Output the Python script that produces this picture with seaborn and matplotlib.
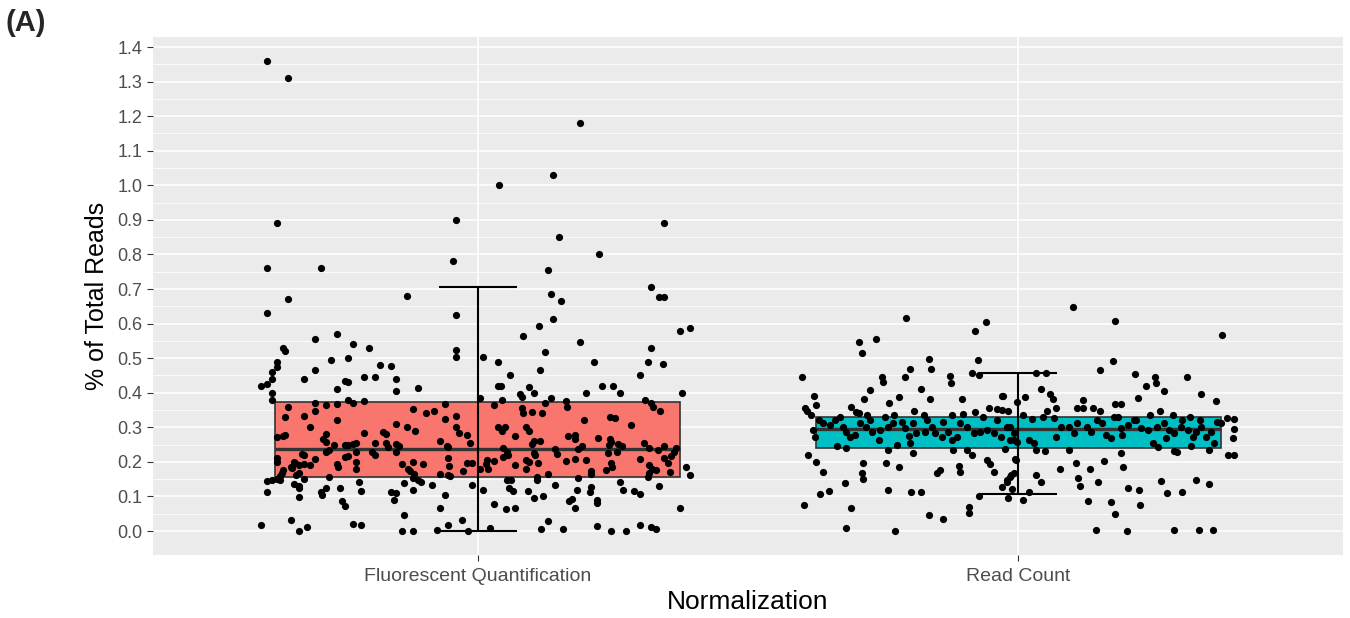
import numpy as np
import pandas as pd
import seaborn as sns
import matplotlib.pyplot as plt

# Categories and summary values
groups = ["Fluorescent Quantification", "Read Count"]
box_colors = ["#F8766D", "#00BFC4"]
q1 = [0.156, 0.239]
median = [0.237, 0.294]
q3 = [0.374, 0.329]
err_lo = [0.0, 0.107]
err_hi = [0.706, 0.458]

# Individual samples: (horizontal jitter, % of total reads)
fq_points = [
    (-0.39, 1.36), (-0.35, 1.31), (-0.37, 0.89), (-0.04, 0.90), (-0.39, 0.76), (-0.29, 0.76), (-0.045, 0.78),
    (0.19, 1.18), (0.14, 1.03), (0.04, 1.00), (0.345, 0.89), (0.15, 0.85), (0.225, 0.80), (0.13, 0.755), (0.32, 0.705),
    (-0.35, 0.67), (-0.13, 0.68), (-0.39, 0.63), (-0.04, 0.625), (-0.30, 0.555), (-0.26, 0.57), (-0.23, 0.54),
    (-0.20, 0.53), (-0.36, 0.53), (-0.355, 0.52), (-0.37, 0.49), (-0.37, 0.475), (-0.27, 0.495), (-0.24, 0.50),
    (-0.30, 0.465), (-0.18, 0.48), (-0.16, 0.477), (-0.38, 0.46), (-0.38, 0.44), (-0.32, 0.44), (-0.21, 0.445),
    (-0.19, 0.445), (-0.15, 0.44), (-0.40, 0.42), (-0.39, 0.425), (-0.245, 0.434), (-0.24, 0.43), (-0.26, 0.41),
    (-0.38, 0.40), (-0.15, 0.405), (-0.11, 0.415), (-0.38, 0.38), (-0.24, 0.38), (-0.23, 0.37), (-0.21, 0.375),
    (-0.30, 0.37), (-0.28, 0.365), (-0.26, 0.368), (-0.35, 0.36), (-0.30, 0.347), (-0.355, 0.33), (-0.32, 0.333),
    (-0.26, 0.32), (-0.12, 0.353), (-0.095, 0.34), (-0.08, 0.347), (-0.06, 0.367), (-0.06, 0.324), (-0.31, 0.30),
    (-0.15, 0.31), (-0.13, 0.30), (-0.115, 0.29), (-0.21, 0.283), (-0.175, 0.286), (-0.17, 0.28), (-0.37, 0.272),
    (-0.36, 0.275), (-0.355, 0.278), (-0.28, 0.28), (-0.285, 0.266), (-0.28, 0.257), (-0.07, 0.26), (-0.265, 0.25),
    (-0.245, 0.25), (-0.24, 0.25), (-0.23, 0.252), (-0.225, 0.255), (-0.19, 0.255), (-0.17, 0.255), (-0.165, 0.243),
    (-0.15, 0.252), (-0.145, 0.246), (-0.195, 0.228), (-0.19, 0.22), (-0.28, 0.23), (-0.275, 0.234), (-0.245, 0.214),
    (-0.24, 0.217), (-0.225, 0.228), (-0.225, 0.20), (-0.37, 0.21), (-0.37, 0.20), (-0.325, 0.222), (-0.32, 0.22),
    (-0.30, 0.208), (-0.15, 0.228), (-0.34, 0.20), (-0.338, 0.198), (-0.33, 0.19), (-0.32, 0.194), (-0.31, 0.19),
    (-0.26, 0.194), (-0.258, 0.185), (-0.345, 0.185), (-0.343, 0.182), (-0.225, 0.18), (-0.14, 0.194), (-0.128, 0.18),
    (-0.12, 0.20), (-0.10, 0.194), (-0.055, 0.21), (-0.053, 0.188), (-0.055, 0.162), (-0.36, 0.176), (-0.362, 0.168),
    (-0.365, 0.16), (-0.335, 0.162), (-0.33, 0.168), (-0.275, 0.156), (-0.125, 0.174), (-0.117, 0.165), (-0.12, 0.153),
    (-0.11, 0.148), (-0.105, 0.142), (-0.07, 0.165), (-0.05, 0.16), (-0.39, 0.145), (-0.38, 0.148), (-0.37, 0.15),
    (-0.365, 0.148), (-0.32, 0.15), (-0.34, 0.136), (-0.33, 0.13), (-0.22, 0.142), (-0.135, 0.139), (-0.12, 0.12),
    (-0.085, 0.133), (-0.39, 0.113), (-0.33, 0.125), (-0.29, 0.113), (-0.288, 0.104), (-0.28, 0.125), (-0.255, 0.125),
    (-0.215, 0.116), (-0.16, 0.113), (-0.15, 0.11), (-0.33, 0.098), (-0.25, 0.087), (-0.245, 0.072), (-0.155, 0.09),
    (-0.06, 0.104), (-0.07, 0.067), (-0.135, 0.046), (-0.345, 0.032), (-0.40, 0.017), (-0.33, 0.0), (-0.315, 0.012),
    (-0.23, 0.02), (-0.215, 0.017), (-0.14, 0.0), (-0.12, 0.0), (-0.075, 0.003), (-0.055, 0.017),
    (-0.04, 0.523), (-0.04, 0.503),
    (0.335, 0.677), (0.345, 0.677), (0.135, 0.686), (0.155, 0.665), (0.14, 0.613), (0.113, 0.593), (0.085, 0.564),
    (0.19, 0.547), (0.375, 0.58), (0.393, 0.587), (0.124, 0.518), (0.01, 0.503), (0.037, 0.49), (0.215, 0.49),
    (0.32, 0.53), (0.315, 0.49), (0.343, 0.483), (0.115, 0.466), (0.06, 0.45), (0.30, 0.45), (0.037, 0.42),
    (0.043, 0.42), (0.096, 0.417), (0.105, 0.40), (0.23, 0.42), (0.25, 0.42), (0.263, 0.40), (0.20, 0.40),
    (0.078, 0.396), (0.083, 0.388), (0.378, 0.40), (0.004, 0.385), (0.046, 0.38), (0.135, 0.385), (0.124, 0.37),
    (0.163, 0.376), (0.165, 0.36), (0.31, 0.38), (0.32, 0.37), (0.325, 0.36), (0.338, 0.347), (0.031, 0.364),
    (0.082, 0.356), (0.085, 0.341), (0.10, 0.344), (0.12, 0.341), (0.245, 0.33), (0.254, 0.327), (0.197, 0.32),
    (0.284, 0.307), (-0.04, 0.333), (0.037, 0.30), (0.05, 0.30), (0.046, 0.29), (-0.04, 0.30), (-0.035, 0.283),
    (0.09, 0.30), (0.096, 0.29), (0.07, 0.275), (-0.02, 0.278), (-0.013, 0.255), (0.168, 0.275), (0.18, 0.278),
    (0.18, 0.266), (0.222, 0.27), (0.245, 0.266), (0.247, 0.257), (0.243, 0.249), (0.10, 0.252), (0.104, 0.26),
    (0.115, 0.26), (-0.057, 0.246), (-0.054, 0.243), (0.048, 0.24), (0.054, 0.228), (0.056, 0.22), (0.048, 0.214),
    (0.143, 0.237), (0.147, 0.223), (0.193, 0.246), (0.186, 0.237), (0.26, 0.252), (0.267, 0.246), (0.258, 0.228),
    (0.241, 0.226), (0.308, 0.255), (0.317, 0.24), (0.334, 0.234), (0.345, 0.246), (0.367, 0.24), (0.364, 0.228),
    (0.358, 0.217), (0.345, 0.21), (0.353, 0.197), (0.104, 0.226), (0.09, 0.205), (0.096, 0.20), (0.111, 0.197),
    (0.106, 0.22), (0.018, 0.205), (0.015, 0.194), (0.031, 0.202), (0.07, 0.19), (0.09, 0.18), (0.163, 0.202),
    (0.18, 0.208), (0.20, 0.205), (-0.02, 0.197), (-0.01, 0.197), (0.004, 0.18), (-0.026, 0.174), (0.02, 0.18),
    (0.13, 0.165), (0.21, 0.174), (0.21, 0.165), (0.237, 0.176), (0.249, 0.185), (0.247, 0.197), (0.30, 0.208),
    (0.317, 0.19), (0.323, 0.18), (0.33, 0.176), (0.317, 0.168), (0.315, 0.156), (0.356, 0.17), (0.386, 0.185),
    (0.393, 0.162), (0.054, 0.148), (0.061, 0.148), (0.059, 0.125), (0.065, 0.116), (0.11, 0.156), (0.11, 0.148),
    (0.143, 0.133), (-0.01, 0.133), (0.011, 0.12), (0.093, 0.116), (0.104, 0.095), (0.122, 0.10), (0.185, 0.153),
    (0.184, 0.12), (0.21, 0.127), (0.208, 0.113), (0.263, 0.142), (0.269, 0.12), (0.29, 0.116), (0.30, 0.107),
    (0.336, 0.13), (0.03, 0.078), (0.052, 0.064), (0.07, 0.067), (0.17, 0.087), (0.174, 0.093), (0.18, 0.067),
    (0.22, 0.09), (0.22, 0.081), (0.375, 0.067), (-0.028, 0.032), (0.13, 0.029), (0.117, 0.006), (0.158, 0.006),
    (0.22, 0.014), (0.247, 0.0), (0.275, 0.0), (0.30, 0.017), (0.32, 0.012), (0.33, 0.006), (-0.017, 0.0),
    (0.024, 0.009),
]

rc_points = [
    (-0.208, 0.616), (-0.06, 0.605), (-0.08, 0.58), (-0.295, 0.547), (-0.263, 0.555), (-0.29, 0.515), (-0.165, 0.498),
    (-0.074, 0.495), (-0.20, 0.469), (-0.161, 0.469), (-0.085, 0.457), (-0.072, 0.451), (-0.40, 0.445), (-0.21, 0.445),
    (-0.252, 0.445), (-0.25, 0.431), (-0.126, 0.448), (-0.124, 0.428), (-0.275, 0.408), (-0.18, 0.41), (-0.378, 0.39),
    (-0.22, 0.387), (-0.286, 0.382), (-0.163, 0.382), (-0.104, 0.382), (-0.03, 0.39), (-0.375, 0.364), (-0.24, 0.37),
    (-0.31, 0.359), (-0.395, 0.356), (-0.39, 0.347), (-0.384, 0.336), (-0.30, 0.344), (-0.295, 0.341), (-0.193, 0.347),
    (-0.08, 0.344), (-0.054, 0.356), (-0.039, 0.353), (-0.03, 0.35), (-0.019, 0.347), (-0.28, 0.336), (-0.23, 0.336),
    (-0.247, 0.33), (-0.174, 0.336), (-0.122, 0.336), (-0.102, 0.338), (-0.065, 0.33),
    (-0.369, 0.321), (-0.361, 0.312), (-0.349, 0.307), (-0.34, 0.321), (-0.329, 0.329), (-0.325, 0.302), (-0.318, 0.287),
    (-0.312, 0.273), (-0.302, 0.278), (-0.293, 0.312), (-0.282, 0.302), (-0.275, 0.321), (-0.27, 0.287), (-0.258, 0.263),
    (-0.256, 0.292), (-0.242, 0.302), (-0.241, 0.234), (-0.231, 0.312), (-0.224, 0.25), (-0.216, 0.316), (-0.21, 0.297),
    (-0.202, 0.275), (-0.2, 0.254), (-0.194, 0.312), (-0.189, 0.283), (-0.173, 0.287), (-0.169, 0.321), (-0.159, 0.302),
    (-0.154, 0.283), (-0.142, 0.273), (-0.139, 0.316), (-0.13, 0.287), (-0.123, 0.263), (-0.114, 0.273), (-0.108, 0.312),
    (-0.095, 0.302), (-0.083, 0.283), (-0.071, 0.287), (-0.058, 0.292), (-0.046, 0.283), (-0.04, 0.321), (-0.033, 0.273),
    (-0.015, 0.302), (-0.009, 0.263),
    (-0.38, 0.292), (-0.377, 0.273), (-0.389, 0.22), (-0.375, 0.20), (-0.361, 0.172), (-0.336, 0.247), (-0.318, 0.239),
    (-0.288, 0.198), (-0.29, 0.169), (-0.287, 0.15), (-0.321, 0.138), (-0.35, 0.116), (-0.367, 0.106), (-0.396, 0.075),
    (-0.309, 0.067), (-0.318, 0.008), (-0.242, 0.119), (-0.245, 0.196), (-0.221, 0.186), (-0.194, 0.225), (-0.199, 0.113),
    (-0.181, 0.112), (-0.15, 0.167), (-0.145, 0.176), (-0.121, 0.234), (-0.11, 0.188), (-0.108, 0.172), (-0.085, 0.22),
    (-0.095, 0.234), (-0.072, 0.101), (-0.059, 0.205), (-0.053, 0.194), (-0.046, 0.172), (-0.091, 0.07), (-0.091, 0.053),
    (-0.165, 0.047), (-0.14, 0.034), (-0.228, 0.001), (-0.03, 0.126), (-0.021, 0.143), (-0.013, 0.162), (-0.012, 0.121),
    (-0.02, 0.095), (-0.004, 0.205), (-0.002, 0.258),
    (0.1, 0.649), (0.179, 0.608), (0.376, 0.567), (0.175, 0.492), (0.15, 0.466), (0.033, 0.458), (0.051, 0.456),
    (0.216, 0.453), (0.253, 0.445), (0.254, 0.429), (0.312, 0.446), (0.236, 0.419), (0.269, 0.404), (0.042, 0.41),
    (0.338, 0.395), (-0.028, 0.39), (0.012, 0.389), (0.058, 0.395), (0.063, 0.381), (0.221, 0.386), (0.366, 0.377),
    (0.12, 0.379), (0.179, 0.368), (0.19, 0.368), (0.108, 0.355), (0.119, 0.355), (0.137, 0.355), (0.151, 0.347),
    (0.069, 0.355), (0.053, 0.347), (0.261, 0.346), (-0.002, 0.374), (0.008, 0.336), (0.025, 0.323), (0.046, 0.329),
    (0.066, 0.326), (0.177, 0.331), (0.184, 0.329), (0.218, 0.321), (0.243, 0.336), (0.285, 0.336), (0.302, 0.321),
    (0.318, 0.331), (0.336, 0.321), (0.367, 0.316), (0.385, 0.326), (0.398, 0.323),
    (-0.021, 0.302), (-0.009, 0.283), (-0.015, 0.263), (0.019, 0.263), (0.028, 0.254), (0.032, 0.234), (0.05, 0.232),
    (0.069, 0.273), (0.078, 0.302), (0.093, 0.302), (0.103, 0.283), (0.109, 0.312), (0.127, 0.302), (0.134, 0.287),
    (0.146, 0.321), (0.155, 0.312), (0.161, 0.278), (0.171, 0.268), (0.189, 0.297), (0.192, 0.278), (0.202, 0.307),
    (0.214, 0.321), (0.226, 0.297), (0.239, 0.292), (0.257, 0.302), (0.27, 0.312), (0.279, 0.292), (0.273, 0.268),
    (0.288, 0.283), (0.294, 0.229), (0.301, 0.302), (0.313, 0.292), (0.322, 0.273), (0.328, 0.287), (0.338, 0.302),
    (0.347, 0.273), (0.356, 0.287), (0.362, 0.254), (0.353, 0.234), (0.375, 0.312), (0.398, 0.295), (0.397, 0.268),
    (0.387, 0.22), (0.399, 0.22),
    (-0.024, 0.236), (-0.007, 0.207), (-0.009, 0.169), (-0.015, 0.157), (-0.021, 0.148), (0.009, 0.09), (0.019, 0.114),
    (0.033, 0.162), (0.041, 0.143), (0.077, 0.179), (0.093, 0.234), (0.106, 0.198), (0.11, 0.154), (0.113, 0.13),
    (0.133, 0.179), (0.129, 0.087), (0.148, 0.141), (0.159, 0.202), (0.171, 0.083), (0.179, 0.049), (0.143, 0.004),
    (0.2, 0.001), (0.19, 0.225), (0.193, 0.186), (0.203, 0.125), (0.223, 0.119), (0.224, 0.074), (0.249, 0.254),
    (0.258, 0.244), (0.264, 0.146), (0.275, 0.109), (0.288, 0.004), (0.302, 0.114), (0.329, 0.147), (0.333, 0.004),
    (0.359, 0.004), (0.352, 0.137), (0.288, 0.232), (0.319, 0.246),
]

rows = []
for i, pts in enumerate([fq_points, rc_points]):
    for off, val in pts:
        rows.append({"pos": i + off, "reads": val, "Normalization": groups[i]})
df = pd.DataFrame(rows)

sns.set_theme(style="darkgrid", rc={"axes.facecolor": "#EBEBEB", "grid.color": "white"})
plt.rcParams["font.family"] = ["Liberation Sans", "DejaVu Sans"]

fig = plt.figure(figsize=(13.5, 6.18), dpi=100)
ax = fig.add_axes([0.1133, 0.1027, 0.8815, 0.8369])

# boxes only (no whiskers), like the ggplot original
stats = [dict(q1=q1[i], med=median[i], q3=q3[i], whislo=q1[i], whishi=q3[i], fliers=[])
         for i in range(len(groups))]
bp = ax.bxp(stats, positions=[0, 1], widths=0.75, patch_artist=True, showcaps=False,
            manage_ticks=False, boxprops=dict(edgecolor="#333333", linewidth=1.2),
            medianprops=dict(color="#333333", linewidth=2.4),
            whiskerprops=dict(linewidth=0), zorder=2)
for patch, c in zip(bp["boxes"], box_colors):
    patch.set_facecolor(c)

sns.scatterplot(data=df, x="pos", y="reads", color="black", s=27, linewidth=0,
                ax=ax, zorder=3, legend=False)

lo = np.array(err_lo)
hi = np.array(err_hi)
ax.errorbar([0, 1], (lo + hi) / 2, yerr=(hi - lo) / 2, fmt="none", ecolor="black",
            elinewidth=1.5, capsize=28, capthick=1.5, zorder=4)

ax.set_xlim(-0.6, 1.6)
ax.set_ylim(-0.068, 1.428)
ax.set_xticks([0, 1])
ax.set_xticklabels(groups)
ax.set_yticks(np.arange(0, 1.41, 0.1))
ax.set_yticklabels([f"{v:.1f}" for v in np.arange(0, 1.41, 0.1)])
ax.set_yticks(np.arange(0.05, 1.41, 0.1), minor=True)
ax.grid(which="major", color="white", linewidth=1.1)
ax.yaxis.grid(which="minor", color="white", linewidth=0.55)
ax.xaxis.grid(which="minor", visible=False)
for s in ax.spines.values():
    s.set_visible(False)
ax.tick_params(which="major", bottom=True, left=True, length=4, width=0.8, color="#333333",
               labelcolor="#4D4D4D", labelsize=13)
ax.tick_params(axis="x", which="major", pad=6, labelsize=14)
ax.tick_params(axis="y", which="major", pad=3.5)
ax.tick_params(which="minor", length=0)

ax.set_xlabel("Normalization", fontsize=19, color="black", labelpad=3)
ax.set_ylabel("% of Total Reads", fontsize=18, color="black", labelpad=6)

fig.text(0.004, 0.985, "(A)", fontsize=21, fontweight="bold", ha="left", va="top")

fig.savefig("out.png", dpi=100)
